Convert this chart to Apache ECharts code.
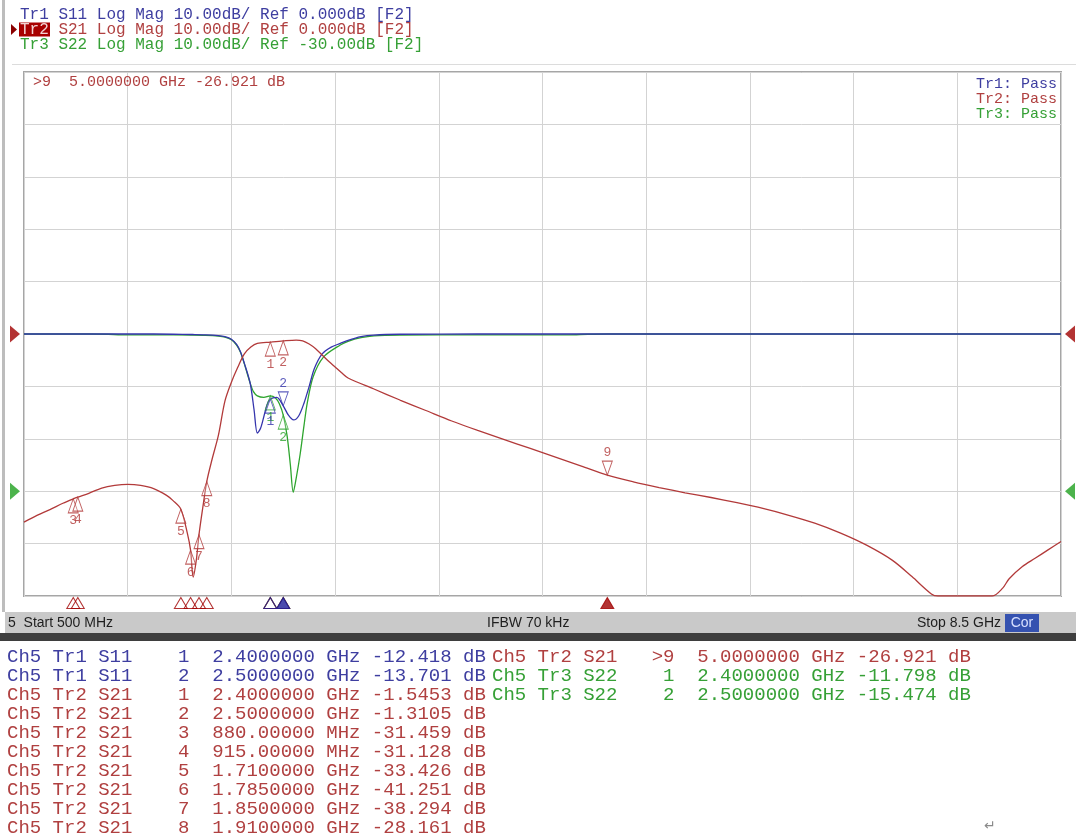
<!DOCTYPE html>
<html><head><meta charset="utf-8">
<script src="https://cdn.jsdelivr.net/npm/echarts@6/dist/echarts.min.js"></script>
<style>html,body{margin:0;padding:0;background:#fff;}#c{width:1076px;height:836px;}</style>
</head><body><div id="c"></div>
<script>
// ---------------- DATA ----------------
const startGHz = 0.5, stopGHz = 8.5;
const yMin = -50, yMax = 50, yDiv = 10;      // 10 dB/div, Ref 0 dB at centre
const refTr1 = 0, refTr2 = 0, refTr3 = -30;

// Tr2 S21 (GHz / dB)
const s21Freq = [0.5,0.6,0.7,0.8,0.88,0.915,1.0,1.1,1.2,1.3,1.4,1.5,1.6,1.65,1.71,1.76,1.785,1.805,1.83,1.85,1.88,1.91,1.95,2.0,2.05,2.1,2.15,2.2,2.25,2.3,2.4,2.5,2.6,2.65,2.7,2.75,2.8,2.85,2.9,2.95,3.0,3.2,3.4,3.6,3.8,4.0,4.2,4.4,4.6,4.8,5.0,5.2,5.4,5.6,5.8,6.0,6.2,6.4,6.6,6.8,7.0,7.2,7.35,7.5,7.55,7.8,7.97,8.05,8.1,8.2,8.3,8.4,8.5];
const s21Db   = [-35.9,-34.6,-33.5,-32.3,-31.459,-31.128,-30.4,-29.4,-28.9,-28.7,-28.9,-29.5,-30.8,-31.8,-33.426,-38.0,-41.251,-46.4,-43.0,-38.294,-33.0,-28.161,-24.0,-19.3,-12.8,-9.2,-6.3,-3.8,-2.5,-1.8,-1.5453,-1.3105,-1.15,-1.3,-1.9,-2.8,-4.0,-5.2,-6.3,-7.4,-8.4,-10.5,-12.6,-14.6,-16.6,-18.4,-20.1,-21.8,-23.5,-25.2,-26.921,-28.2,-29.3,-30.3,-31.2,-32.2,-33.3,-34.6,-36.1,-38.0,-40.3,-43.2,-46.3,-49.6,-50,-50,-50,-48.5,-46.7,-44.4,-42.8,-41.2,-39.6];

// Tr1 S11
const s11Freq = [0.5,1.0,1.5,1.8,1.9,2.0,2.05,2.1,2.14,2.17,2.2,2.245,2.275,2.3,2.325,2.35,2.375,2.4,2.45,2.5,2.54,2.58,2.62,2.66,2.7,2.74,2.8,2.87,2.94,3.0,3.1,3.2,3.4,4.0,5.0,6.0,7.0,8.5];
const s11Db   = [0,0,0,-0.1,-0.15,-0.3,-0.5,-1.0,-2.0,-3.4,-5.6,-9.4,-14.5,-18.9,-18.0,-15.8,-13.5,-12.418,-12.1,-13.701,-15.5,-16.4,-15.6,-13.2,-10.0,-6.6,-3.8,-2.5,-1.8,-1.2,-0.5,-0.2,-0.05,0,0,0,0,0];

// Tr3 S22
const s22Freq = [0.5,1.0,1.15,1.25,1.5,1.8,1.9,2.0,2.05,2.1,2.14,2.17,2.2,2.245,2.27,2.3,2.35,2.4,2.44,2.47,2.5,2.53,2.555,2.577,2.6,2.63,2.66,2.685,2.73,2.81,2.94,3.0,3.1,3.2,3.4,4.0,4.7,4.85,5.0,6.0,7.0,8.5];
const s22Db   = [0,0,-0.05,-0.15,-0.15,-0.2,-0.25,-0.4,-0.6,-1.1,-2.1,-3.5,-5.7,-9.4,-11.0,-11.8,-12.1,-11.798,-12.2,-13.3,-15.474,-19.5,-25.0,-30.2,-27.5,-23.0,-17.5,-13.2,-8.2,-4.4,-2.1,-1.4,-0.7,-0.35,-0.2,-0.15,-0.15,-0.05,0,0,0,0];

// Markers
const s11MkName = ['1','2'];
const s11MkFreq = [2.4, 2.5];
const s11MkDb   = [-12.418, -13.701];
const s11Active = 1;
const s21MkName = ['1','2','3','4','5','6','7','8','>9'];
const s21MkFreq = [2.4, 2.5, 0.88, 0.915, 1.71, 1.785, 1.85, 1.91, 5.0];
const s21MkDb   = [-1.5453, -1.3105, -31.459, -31.128, -33.426, -41.251, -38.294, -28.161, -26.921];
const s21Active = 8;
const s22MkName = ['1','2'];
const s22MkFreq = [2.4, 2.5];
const s22MkDb   = [-11.798, -15.474];
const s22Active = -1;

// ---------------- STYLE ----------------
const BLUE = '#3535ad', RED = '#b23a3a', GREEN = '#2ea52e';
const TBLUE = '#3e3ea0', TRED = '#b04040', TGREEN = '#36a036';
const MONO = '"Liberation Mono","DejaVu Sans Mono",monospace';
const NARROW = '"Liberation Sans Narrow","Liberation Sans",sans-serif';
const UP = 'path://M5,0 L10,14 L0,14 Z';
const DOWN = 'path://M0,0 L10,0 L5,14 Z';
const RIGHT = 'path://M0,0 L10,6 L0,12 Z';
const LEFT = 'path://M10,0 L0,6 L10,12 Z';

const zip = (a, b) => a.map((v, i) => [v, b[i]]);

function markerSeries(names, fr, db, active, color) {
  const inact = [], act = [];
  names.forEach((n, i) => {
    const label = n.replace('>', '');
    (i === active ? act : inact).push({ name: label, value: [fr[i], db[i]] });
  });
  const lbl = { show: true, formatter: p => p.name, color: color, fontFamily: MONO, fontSize: 13, distance: 1 };
  return [
    { type: 'scatter', xAxisIndex: 0, yAxisIndex: 0, data: inact, symbol: UP, symbolSize: [10, 14],
      symbolOffset: [0, 7], itemStyle: { color: 'rgba(255,255,255,0.3)', borderColor: color, borderWidth: 1 },
      label: Object.assign({ position: 'bottom' }, lbl), z: 10, silent: true },
    { type: 'scatter', xAxisIndex: 0, yAxisIndex: 0, data: act, symbol: DOWN, symbolSize: [10, 14],
      symbolOffset: [0, -7], itemStyle: { color: 'rgba(255,255,255,0.3)', borderColor: color, borderWidth: 1 },
      label: Object.assign({ position: 'top' }, lbl), z: 10, silent: true }
  ];
}

function stimSeries(fr, active, color) {
  const inact = [], act = [];
  fr.forEach((f, i) => (i === active ? act : inact).push([f, 0.5]));
  return [
    { type: 'scatter', xAxisIndex: 2, yAxisIndex: 1, data: inact, symbol: UP, symbolSize: [13, 11],
      itemStyle: { color: 'rgba(255,255,255,0)', borderColor: color, borderWidth: 1 }, z: 5, silent: true },
    { type: 'scatter', xAxisIndex: 2, yAxisIndex: 1, data: act, symbol: UP, symbolSize: [13, 11],
      itemStyle: { color: color, borderColor: color, borderWidth: 1 }, z: 6, silent: true }
  ];
}

function fmtFreq(f) { return f < 1 ? (f * 1000).toFixed(5) + ' MHz' : f.toFixed(7) + ' GHz'; }
function fmtRow(tr, s, name, f, db) {
  return 'Ch5 ' + tr + ' ' + s + name.padStart(5, ' ') + '  ' + fmtFreq(f) + ' ' + db.toPrecision(5) + ' dB';
}

// ---------------- TEXT / DECORATION ----------------
const g = [];
// frame
g.push({ type: 'rect', shape: { x: 2, y: 0, width: 3, height: 612 }, style: { fill: '#bdbdbd' }, silent: true });
g.push({ type: 'line', shape: { x1: 12, y1: 64.5, x2: 1076, y2: 64.5 }, style: { stroke: '#dcdcdc', lineWidth: 1 }, silent: true });
// header
g.push({ type: 'text', style: { text: 'Tr1 S11 Log Mag 10.00dB/ Ref 0.000dB [F2]', x: 20, y: 14.5, fill: TBLUE, font: '16px ' + MONO, verticalAlign: 'middle' } });
g.push({ type: 'polygon', shape: { points: [[11, 24], [17, 29.5], [11, 35]] }, style: { fill: '#8a0000' } });
g.push({ type: 'rect', shape: { x: 19, y: 22.5, width: 31, height: 14 }, style: { fill: '#a80000' } });
g.push({ type: 'text', style: { text: 'Tr2', x: 20, y: 29.5, fill: '#f2d2d2', font: '16px ' + MONO, verticalAlign: 'middle' } });
g.push({ type: 'text', style: { text: 'S21 Log Mag 10.00dB/ Ref 0.000dB [F2]', x: 20 + 4 * 9.6, y: 29.5, fill: TRED, font: '16px ' + MONO, verticalAlign: 'middle' } });
g.push({ type: 'text', style: { text: 'Tr3 S22 Log Mag 10.00dB/ Ref -30.00dB [F2]', x: 20, y: 44.5, fill: TGREEN, font: '16px ' + MONO, verticalAlign: 'middle' } });
// active marker readout
g.push({ type: 'text', z: 20, style: { text: '>9  ' + fmtFreq(s21MkFreq[8]) + ' ' + s21MkDb[8].toPrecision(5) + ' dB', x: 33, y: 82, fill: TRED, font: '15px ' + MONO, verticalAlign: 'middle' } });
// limit pass
[['Tr1: Pass', TBLUE], ['Tr2: Pass', TRED], ['Tr3: Pass', TGREEN]].forEach((t, i) => {
  g.push({ type: 'text', z: 20, style: { text: t[0], x: 1057, y: 84 + 15 * i, fill: t[1], font: '15px ' + MONO, align: 'right', verticalAlign: 'middle' } });
});
// status bar
g.push({ type: 'rect', shape: { x: 5, y: 612, width: 1071, height: 21 }, style: { fill: '#c9c9c9' } });
g.push({ type: 'rect', shape: { x: 0, y: 633, width: 1076, height: 8 }, style: { fill: '#3e3e3e' } });
g.push({ type: 'text', style: { text: '5  Start 500 MHz', x: 8, y: 623, fill: '#1e1e1e', font: '14px ' + NARROW, verticalAlign: 'middle' } });
g.push({ type: 'text', style: { text: 'IFBW 70 kHz', x: 487, y: 623, fill: '#1e1e1e', font: '14px ' + NARROW, verticalAlign: 'middle' } });
g.push({ type: 'text', style: { text: 'Stop 8.5 GHz', x: 1001, y: 623, fill: '#1e1e1e', font: '14px ' + NARROW, align: 'right', verticalAlign: 'middle' } });
g.push({ type: 'rect', shape: { x: 1005, y: 614, width: 34, height: 18 }, style: { fill: '#3552b0' } });
g.push({ type: 'text', style: { text: 'Cor', x: 1022, y: 623, fill: '#d8e0ff', font: '14px ' + NARROW, align: 'center', verticalAlign: 'middle' } });
// marker table
const leftRows = [], rightRows = [];
s11MkName.forEach((n, i) => leftRows.push([fmtRow('Tr1', 'S11', n, s11MkFreq[i], s11MkDb[i]), TBLUE]));
s21MkName.forEach((n, i) => { if (i !== s21Active) leftRows.push([fmtRow('Tr2', 'S21', n, s21MkFreq[i], s21MkDb[i]), TRED]); });
rightRows.push([fmtRow('Tr2', 'S21', s21MkName[s21Active], s21MkFreq[s21Active], s21MkDb[s21Active]), TRED]);
s22MkName.forEach((n, i) => rightRows.push([fmtRow('Tr3', 'S22', n, s22MkFreq[i], s22MkDb[i]), TGREEN]));
leftRows.forEach((r, i) => g.push({ type: 'text', style: { text: r[0], x: 7, y: 657 + 19 * i, fill: r[1], font: '19px ' + MONO, verticalAlign: 'middle' } }));
rightRows.forEach((r, i) => g.push({ type: 'text', style: { text: r[0], x: 492, y: 657 + 19 * i, fill: r[1], font: '19px ' + MONO, verticalAlign: 'middle' } }));
g.push({ type: 'text', style: { text: '\u21b5', x: 984, y: 826, fill: '#8a8a8a', font: '14px "DejaVu Sans",sans-serif', verticalAlign: 'middle' } });

// ---------------- CHART ----------------
const chart = echarts.init(document.getElementById('c'), null, { renderer: 'canvas', width: 1076, height: 836 });
const gridLine = { show: true, lineStyle: { color: '#d3d3d3', width: 1 } };
const series = [
  { type: 'line', name: 'S22', xAxisIndex: 0, yAxisIndex: 0, data: zip(s22Freq, s22Db), showSymbol: false, smooth: 0.3,
    lineStyle: { color: GREEN, width: 1.3 }, itemStyle: { color: GREEN }, z: 2, silent: true },
  { type: 'line', name: 'S11', xAxisIndex: 0, yAxisIndex: 0, data: zip(s11Freq, s11Db), showSymbol: false, smooth: 0.3,
    lineStyle: { color: BLUE, width: 1.3 }, itemStyle: { color: BLUE }, z: 3, silent: true },
  { type: 'line', name: 'S21', xAxisIndex: 0, yAxisIndex: 0, data: zip(s21Freq, s21Db), showSymbol: false, smooth: 0.3,
    lineStyle: { color: RED, width: 1.3 }, itemStyle: { color: RED }, z: 4, silent: true },
  ...markerSeries(s22MkName, s22MkFreq, s22MkDb, s22Active, GREEN),
  ...markerSeries(s11MkName, s11MkFreq, s11MkDb, s11Active, BLUE),
  ...markerSeries(s21MkName, s21MkFreq, s21MkDb, s21Active, RED),
  // reference level arrows
  { type: 'scatter', xAxisIndex: 0, yAxisIndex: 0, clip: false, data: [[startGHz, refTr3]], symbol: RIGHT, symbolSize: [10, 17], symbolOffset: [-9, 0], itemStyle: { color: '#1fa01f' }, z: 12, silent: true },
  { type: 'scatter', xAxisIndex: 0, yAxisIndex: 0, clip: false, data: [[startGHz, refTr2]], symbol: RIGHT, symbolSize: [10, 17], symbolOffset: [-9, 0], itemStyle: { color: '#a00000' }, z: 12, silent: true },
  { type: 'scatter', xAxisIndex: 0, yAxisIndex: 0, clip: false, data: [[stopGHz, refTr3]], symbol: LEFT, symbolSize: [10, 17], symbolOffset: [9, 0], itemStyle: { color: '#1fa01f' }, z: 12, silent: true },
  { type: 'scatter', xAxisIndex: 0, yAxisIndex: 0, clip: false, data: [[stopGHz, refTr2]], symbol: LEFT, symbolSize: [10, 17], symbolOffset: [9, 0], itemStyle: { color: '#a00000' }, z: 12, silent: true },
  // stimulus markers under graticule
  ...stimSeries(s22MkFreq, -1, GREEN),
  ...stimSeries(s21MkFreq, s21Active, '#a00000'),
  ...stimSeries(s11MkFreq, s11Active, '#1f1f9a')
];

chart.setOption({
  animation: false,
  backgroundColor: '#ffffff',
  grid: [
    { left: 24, top: 72, width: 1037, height: 524, show: true, borderColor: '#a6a6a6', borderWidth: 2, backgroundColor: '#ffffff' },
    { left: 24, top: 597, width: 1037, height: 12, show: false }
  ],
  xAxis: [
    { gridIndex: 0, type: 'value', min: startGHz, max: stopGHz, show: false },
    { gridIndex: 0, type: 'value', min: 0, max: 10, interval: 1, axisLine: { show: false }, axisTick: { show: false }, axisLabel: { show: false }, splitLine: gridLine },
    { gridIndex: 1, type: 'value', min: startGHz, max: stopGHz, show: false }
  ],
  yAxis: [
    { gridIndex: 0, type: 'value', min: yMin, max: yMax, interval: yDiv, axisLine: { show: false }, axisTick: { show: false }, axisLabel: { show: false }, splitLine: gridLine },
    { gridIndex: 1, type: 'value', min: 0, max: 1, show: false }
  ],
  series: series,
  graphic: { elements: g }
});
</script></body></html>
